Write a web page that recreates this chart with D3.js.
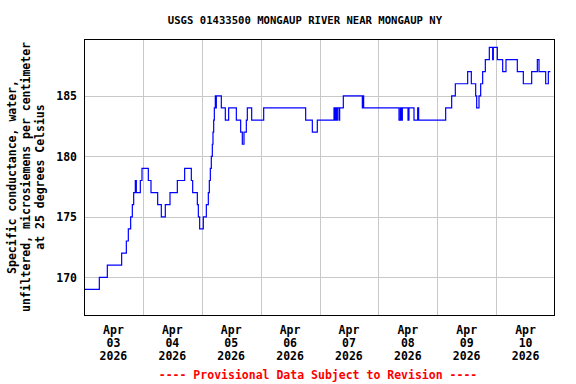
<!DOCTYPE html>
<html>
<head>
<meta charset="utf-8">
<script src="https://cdn.jsdelivr.net/npm/d3@7"></script>
<style>
  html, body { margin: 0; padding: 0; background: #fff; }
  svg { display: block; }
  text { font-family: "DejaVu Sans Mono", "Liberation Mono", monospace; font-weight: bold; font-size: 11.5px; }
  text.title { font-size: 10.6px; }
</style>
</head>
<body>
<svg id="chart" width="576" height="384"></svg>
<script>
// ---- Data ----
const titleText = "USGS 01433500 MONGAUP RIVER NEAR MONGAUP NY";
const footerText = "---- Provisional Data Subject to Revision ----";
const yLabelLines = [
  "Specific conductance, water,",
  "unfiltered, microsiemens per centimeter",
  "at 25 degrees Celsius"
];
const startTime = new Date(2026, 3, 3, 0, 0);   // Apr 03 2026 00:00
const endTime = new Date(2026, 3, 11, 0, 0);
// hours after start when the value changes
const hours = [
  0, 6.25, 9.51, 15.35, 17.26, 18.07, 19.02, 19.70, 20.25, 20.92,
  21.33, 22.96, 23.64, 26.22, 27.31, 30.03, 31.52, 33.15, 35.06, 38.05,
  41.03, 43.75, 44.30, 46.20, 46.61, 47.15, 48.64, 49.87, 50.68, 51.09,
  51.50, 51.90, 52.31, 52.58, 52.86, 53.13, 53.53, 53.67, 53.94, 55.98,
  57.61, 58.97, 62.10, 63.86, 64.54, 65.22, 66.17, 66.58, 68.35, 73.24,
  90.36, 93.08, 95.11, 101.91, 102.32, 102.59, 103.00, 103.27, 103.95, 104.22,
  105.71, 113.46, 113.73, 114.00, 128.41, 128.95, 129.36, 129.77, 132.08, 132.48,
  134.52, 136.02, 136.42, 147.43, 149.88, 151.37, 156.40, 157.89, 159.66, 160.07,
  161.02, 161.70, 162.51, 163.60, 165.23, 166.59, 166.86, 168.49, 170.67, 172.02,
  176.64, 179.09, 182.49, 184.80, 185.48, 188.20, 189.28, 190.10
];
const values = [
  169, 170, 171, 172, 173, 174, 175, 176, 177, 178,
  177, 178, 179, 178, 177, 176, 175, 176, 177, 178,
  179, 178, 177, 176, 175, 174, 175, 176, 177, 178,
  179, 180, 181, 182, 183, 184, 185, 184, 185, 184,
  183, 184, 183, 182, 181, 182, 183, 184, 183, 184,
  183, 182, 183, 184, 183, 184, 183, 184, 183, 184,
  185, 184, 185, 184, 183, 184, 183, 184, 183, 184,
  183, 184, 183, 184, 185, 186, 187, 186, 185, 184,
  185, 186, 187, 188, 189, 188, 189, 188, 187, 188,
  187, 186, 187, 188, 187, 186, 187, 187
];
const yTicks = [170, 175, 180, 185];
const dayTicks = [3, 4, 5, 6, 7, 8, 9, 10, 11];
const dayLabels = [
  ["Apr", "03", "2026"], ["Apr", "04", "2026"], ["Apr", "05", "2026"], ["Apr", "06", "2026"],
  ["Apr", "07", "2026"], ["Apr", "08", "2026"], ["Apr", "09", "2026"], ["Apr", "10", "2026"]
];
const yDomain = [166.8, 189.7];

// ---- Layout ----
const svg = d3.select("#chart");
const L = 84, R = 555, T = 39, B = 316;

const x = d3.scaleTime().domain([startTime, endTime]).range([L, R]);
const y = d3.scaleLinear().domain(yDomain).range([B, T]);

const data = hours.map((h, i) => ({ t: new Date(startTime.getTime() + h * 3600e3), v: values[i] }));

// gridlines
const gx = svg.append("g").attr("class", "grid-x");
dayTicks.slice(1, -1).forEach(d => {
  const xp = Math.round(x(new Date(2026, 3, d))) + 0.5;
  gx.append("line").attr("x1", xp).attr("x2", xp).attr("y1", T).attr("y2", B)
    .attr("stroke", "#c8c8c8").attr("stroke-width", 1);
});
const gy = svg.append("g").attr("class", "grid-y");
yTicks.forEach(v => {
  const yp = Math.round(y(v)) + 0.5;
  gy.append("line").attr("x1", L).attr("x2", R).attr("y1", yp).attr("y2", yp)
    .attr("stroke", "#c8c8c8").attr("stroke-width", 1);
});

// data line
const line = d3.line().x(d => x(d.t)).y(d => y(d.v)).curve(d3.curveStepAfter);
svg.append("path").datum(data).attr("d", line)
  .attr("fill", "none").attr("stroke", "#0000ff").attr("stroke-width", 1.2);

// frame
svg.append("rect").attr("x", L + 0.5).attr("y", T + 0.5).attr("width", R - L - 1).attr("height", B - T - 1)
  .attr("fill", "none").attr("stroke", "#000").attr("stroke-width", 1);

// y tick labels
yTicks.forEach(v => {
  svg.append("text").attr("x", 77).attr("y", y(v) + 4.5).attr("text-anchor", "end")
    .attr("fill", "#000").text(v);
});

// x tick labels (centered at noon)
dayLabels.forEach((lab, i) => {
  const xc = x(new Date(2026, 3, dayTicks[i], 12));
  lab.forEach((s, j) => {
    svg.append("text").attr("x", xc).attr("y", 334 + j * 13).attr("text-anchor", "middle")
      .attr("fill", "#000").text(s);
  });
});

// title
svg.append("text").attr("class", "title").attr("x", 305).attr("y", 24).attr("text-anchor", "middle").attr("fill", "#000").text(titleText);

// footer
svg.append("text").attr("x", 318).attr("y", 379).attr("text-anchor", "middle").attr("fill", "#ff0000").text(footerText);

// y axis label
const yl = [ {x: 16, c: 177}, {x: 30, c: 177}, {x: 44, c: 177} ];
yLabelLines.forEach((s, i) => {
  svg.append("text").attr("transform", `translate(${yl[i].x},${yl[i].c}) rotate(-90)`)
    .attr("text-anchor", "middle").attr("fill", "#000").text(s);
});
</script>
</body>
</html>
